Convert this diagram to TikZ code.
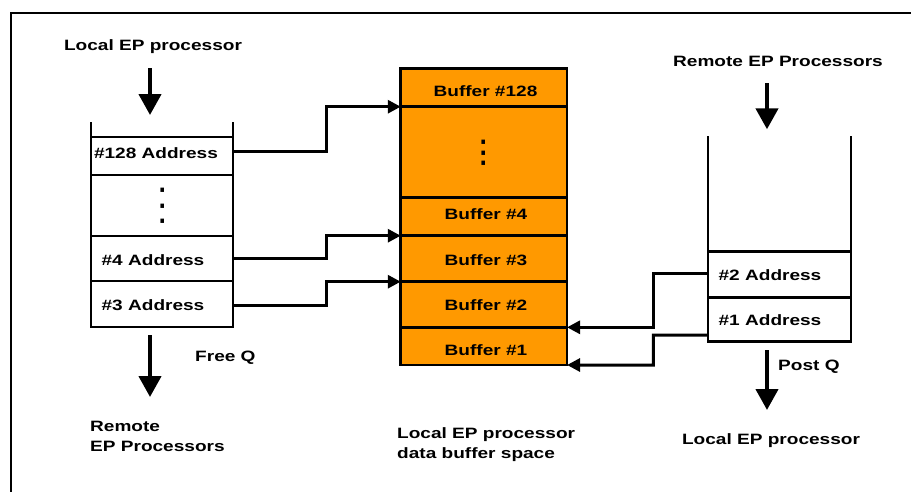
\documentclass[tikz,border=0pt]{standalone}
\usepackage{fontspec}
\setmainfont{Liberation Sans}[FakeStretch=1.27]
\usetikzlibrary{arrows.meta,calc}
\definecolor{buforange}{RGB}{255,153,0}
\begin{document}
\begin{tikzpicture}[x=1pt,y=-1pt,
  txt/.style={font=\bfseries\fontsize{15}{20}\selectfont, inner sep=0pt},
  dotrow/.style={font=\bfseries\fontsize{24}{24}\selectfont, inner sep=0pt, rotate=90},
  qcell/.style={draw, line width=2.6pt, minimum width=142pt, inner sep=0pt, outer sep=0pt},
  bcell/.style={draw, fill=buforange, line width=2.6pt, minimum width=166.3pt, inner sep=0pt, outer sep=0pt},
  qwall/.style={line width=2.8pt},
  conn/.style={line width=3pt, -{Triangle[width=13pt,length=13pt]}},
  bigarrow/.style={line width=4.3pt, -{Triangle[width=22pt,length=21pt]}},
  frame/.style={line width=2pt}]
\useasboundingbox (0,0) rectangle (911,491);
% frame (partly cropped)
\coordinate (fbl) at (11,495);
\coordinate (ftl) at (11,12.7);
\coordinate (ftr) at (915,12.7);
\draw[frame] (fbl) -- (ftl) -- (ftr);

% left queue (Free Q)
\node[qcell, minimum height=38pt] (c128) at (162,156) {};
\node[qcell, minimum height=61pt] (cdots) at (162,205.5) {};
\node[qcell, minimum height=45pt] (c4) at (162,258.5) {};
\node[qcell, minimum height=46pt] (c3) at (162,304) {};
\draw[qwall] (c128.north west) -- ++(0,-15.3);
\draw[qwall] (c128.north east) -- ++(0,-15.3);
\node[txt] (t128) at (156,153) {\#128 Address};
\node[dotrow] (tdl) at (163,206) {.\hspace{6.8pt}.\hspace{6.8pt}.};
\node[txt] (t4) at (153,260) {\#4 Address};
\node[txt] (t3) at (153,305) {\#3 Address};

% buffer space
\node[bcell, minimum height=38.4pt] (b128) at (483.9,87.5) {};
\node[bcell, minimum height=90.6pt] (bdots) at (483.9,152) {};
\node[bcell, minimum height=38.4pt] (b4) at (483.9,216.5) {};
\node[bcell, minimum height=46pt] (b3) at (483.9,258.7) {};
\node[bcell, minimum height=45.6pt] (b2) at (483.9,304.5) {};
\node[bcell, minimum height=37.7pt] (b1) at (483.9,346.15) {};
\node[txt] (tb128) at (485.5,91) {Buffer \#128};
\node[dotrow] (tdb) at (484,153) {.\hspace{1.8pt}.\hspace{1.8pt}.};
\node[txt] (tb4) at (486,214.5) {Buffer \#4};
\node[txt] (tb3) at (486,260) {Buffer \#3};
\node[txt] (tb2) at (486,305) {Buffer \#2};
\node[txt] (tb1) at (486,350) {Buffer \#1};

% right queue (Post Q)
\node[qcell, minimum width=143pt, minimum height=45.5pt] (r2) at (779.5,274.5) {};
\node[qcell, minimum width=143pt, minimum height=44.5pt] (r1) at (779.5,319.5) {};
\draw[qwall] (r2.north west) -- ++(0,-115.3);
\draw[qwall] (r2.north east) -- ++(0,-115.3);
\node[txt] (tr2) at (770,275) {\#2 Address};
\node[txt] (tr1) at (770,320) {\#1 Address};

% connectors
\draw[conn] ([yshift=4.3pt]c128.east) -| (326,106.7) -- (b128.south west);
\draw[conn] (c4.east) -| (326,235.7) -- (b3.north west);
\draw[conn] ([yshift=-1pt]c3.east) -| (326,281.7) -- (b2.north west);
\draw[conn] ([yshift=1.2pt]r2.west) -| (653.3,327.3) -- (b1.north east);
\draw[conn] ([yshift=-15.5pt]r1.west) -| (653.3,365) -- (b1.south east);

% big arrows
\coordinate (a1s) at (150,68);   \coordinate (a1e) at (150,115);
\coordinate (a2s) at (150,335);  \coordinate (a2e) at (150,397);
\coordinate (a3s) at (767,83);   \coordinate (a3e) at (767,129.3);
\coordinate (a4s) at (767,350);  \coordinate (a4e) at (767,410);
\draw[bigarrow] (a1s) -- (a1e);
\draw[bigarrow] (a2s) -- (a2e);
\draw[bigarrow] (a3s) -- (a3e);
\draw[bigarrow] (a4s) -- (a4e);

% labels
\node[txt] (ltl) at (153,46.5) {Local EP processor};
\node[txt] (ltr) at (778,61) {Remote EP Processors};
\node[txt, anchor=west] (lfree) at (195,358) {Free Q};
\node[txt, anchor=west] (lpost) at (778,367) {Post Q};
\node[txt, align=left, anchor=west] (lrem) at (90,436) {Remote\\EP Processors};
\node[txt, align=left, anchor=west] (lbuf) at (397,444.5) {Local EP processor\\data buffer space};
\node[txt] (llr) at (771,441) {Local EP processor};
\end{tikzpicture}
\end{document}
